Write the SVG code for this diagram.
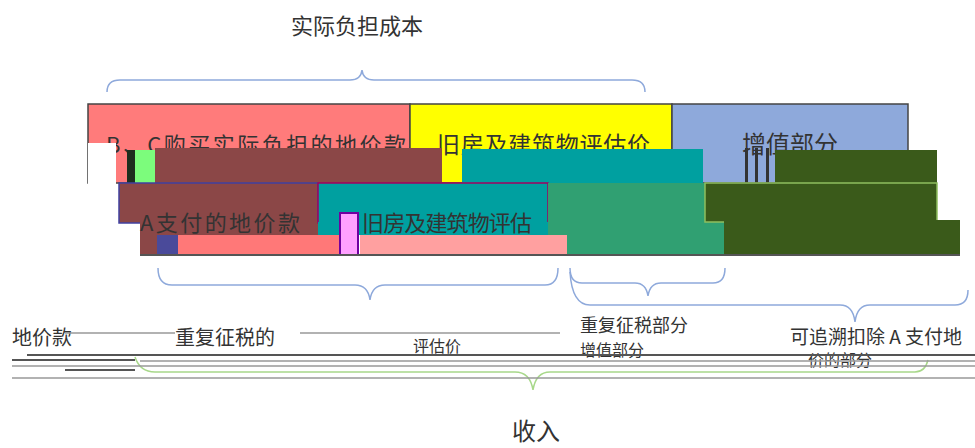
<svg xmlns="http://www.w3.org/2000/svg" width="975" height="448" viewBox="0 0 975 448">
<style>
.t{font-family:"Noto Sans CJK SC","Liberation Sans",sans-serif;fill:#333}
.brace{fill:none;stroke:#8EA9DB;stroke-width:1.5}
.box{stroke:#444;stroke-width:1.5}
.gl{stroke:#999;stroke-width:1.5}
.dl{stroke:#555;stroke-width:2}
</style>
<rect width="975" height="448" fill="#fff"/>
<text class="t" x="357" y="34" font-size="22" text-anchor="middle">实际负担成本</text>

<g id="row1-red">
<rect class="box" x="88" y="104" width="322" height="79" fill="#FF7B7B"/>
<text class="t" x="106" y="153" font-size="22" textLength="300">B、C购买实际负担的地价款</text>
</g>
<g id="row1-yellow">
<rect class="box" x="410" y="104" width="262" height="79" fill="#FFFF00"/>
<text class="t" x="437" y="153" font-size="23" textLength="213">旧房及建筑物评估价</text>
</g>
<g id="row1-blue">
<rect class="box" x="672" y="104" width="236" height="79" fill="#8EA9DB"/>
<text class="t" x="742" y="153" font-size="24">增值部分</text>
</g>

<g id="row1-strip">
<rect x="88" y="143" width="28" height="41" fill="#fff"/>
<rect x="127" y="150" width="8" height="33" fill="#1E2E1E"/>
<rect x="135" y="150" width="20" height="33" fill="#7CFC7C"/>
<rect x="155" y="148" width="287" height="35" fill="#8B4747"/>
<rect x="462" y="149" width="241" height="34" fill="#00A0A0"/>
<rect x="775" y="150" width="162" height="33" fill="#3A5A1A"/>
<rect x="745" y="148" width="3" height="35" fill="#333"/>
<rect x="755" y="148" width="3" height="35" fill="#333"/>
<rect x="766" y="148" width="3" height="35" fill="#333"/>
</g>

<g id="row2-brown">
<rect x="119" y="183" width="199" height="40" fill="#8B4747" stroke="#4040A0" stroke-width="1.5"/>
<rect x="140" y="222" width="200" height="33" fill="#8B4747"/>
</g>
<g id="row2-teal">
<rect x="318" y="183" width="230" height="40" fill="#00A0A0" stroke="#A00060" stroke-width="1.5"/>
<rect x="318" y="222" width="249" height="13" fill="#00A0A0"/>
</g>
<g id="row2-green">
<rect x="548" y="183" width="157" height="72" fill="#30A072"/>
<rect x="567" y="220" width="157" height="35" fill="#30A072"/>
</g>
<g id="row2-darkgreen">
<rect x="705" y="183" width="232" height="39" fill="#3A5A1A" stroke="#8FBF5F" stroke-width="1.5"/>
<rect x="724" y="220" width="236" height="35" fill="#3A5A1A"/>
</g>
<g id="row2-text">
<text class="t" x="140" y="231" font-size="22" fill="#2A2A5A" textLength="160">A支付的地价款</text>
<text class="t" x="362" y="231" font-size="22" fill="#5A1040" textLength="170">旧房及建筑物评估</text>
</g>
<g id="row2-strip">
<rect x="157" y="235" width="21" height="20" fill="#4A4A9A"/>
<rect x="178" y="235" width="162" height="20" fill="#FF7878"/>
<rect x="340" y="213" width="18" height="42" fill="#FFA0FF" stroke="#7000A0" stroke-width="2"/>
<rect x="360" y="235" width="207" height="20" fill="#FFA0A0"/>
<line x1="140" y1="255" x2="960" y2="255" stroke="#555" stroke-width="2"/>
</g>

<g id="connectors">
<path class="brace" d="M107,92 Q107,80 120,80 L350,80 Q361,80 362,70 Q363,80 374,80 L632,80 Q645,80 645,92"/>
<path class="brace" d="M158,268 Q158,285 172,285 L355,285 Q368,285 370,300 Q372,285 385,285 L545,285 Q558,285 558,268"/>
<path class="brace" d="M570,268 Q570,283 582,283 L635,283 Q646,283 648,296 Q650,283 661,283 L713,283 Q725,283 725,268"/>
<path class="brace" d="M570,272 Q572,305 590,305 L840,305 Q853,305 855,322 Q857,305 870,305 L955,305 Q968,305 968,290"/>
<path d="M135,357 Q140,372 155,372 L515,372 Q530,372 533,390 Q536,372 550,372 L915,372 Q925,372 928,360" fill="none" stroke="#A8D88A" stroke-width="1.5"/>
</g>

<g id="labels-bottom">
<text class="t" x="12" y="345" font-size="20">地价款</text>
<text class="t" x="175" y="345" font-size="20">重复征税的</text>
<text class="t" x="413" y="352" font-size="16">评估价</text>
<text class="t" x="580" y="332" font-size="18">重复征税部分</text>
<text class="t" x="580" y="356" font-size="16">增值部分</text>
<text class="t" x="790" y="344" font-size="19">可追溯扣除 A 支付地</text>
<text class="t" x="808" y="366" font-size="16">价的部分</text>
<line class="gl" x1="65" y1="333" x2="175" y2="333"/>
<line class="gl" x1="300" y1="333" x2="560" y2="333"/>
<line class="dl" x1="27" y1="355" x2="975" y2="355"/>
<line class="dl" x1="12" y1="360" x2="135" y2="360"/>
<line class="gl" x1="140" y1="361" x2="975" y2="361"/>
<line class="gl" x1="12" y1="366" x2="975" y2="366"/>
<line class="dl" x1="65" y1="370" x2="135" y2="370"/>
<line class="gl" x1="12" y1="378" x2="975" y2="378"/>
</g>

<text class="t" x="536" y="440" font-size="24" text-anchor="middle">收入</text>
</svg>
